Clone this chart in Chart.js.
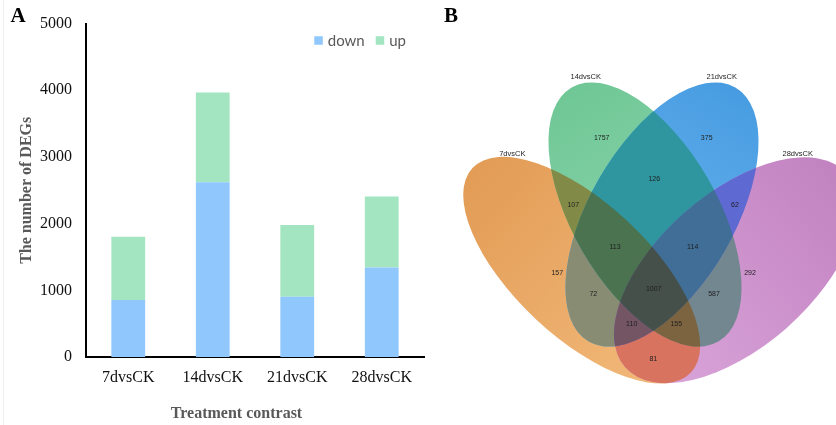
<!DOCTYPE html>
<html>
<head>
<meta charset="utf-8">
<script src="https://cdn.jsdelivr.net/npm/chart.js@4.4.1/dist/chart.umd.min.js"></script>
<style>
  html, body { margin: 0; padding: 0; background: #fff; }
  #wrap { position: relative; width: 836px; height: 425px; overflow: hidden; }
  #edge { position: absolute; left: 3px; top: 0; width: 1px; height: 425px; background: #efefef; }
  #barBox { position: absolute; left: 0; top: 0; width: 430px; height: 425px; }
  #vennBox { position: absolute; left: 430px; top: 0; width: 406px; height: 425px; }
</style>
</head>
<body>
<div id="wrap">
  <div id="edge"></div>
  <div id="barBox"><canvas id="bars"></canvas></div>
  <div id="vennBox"><canvas id="venn"></canvas></div>
</div>
<script>
// ---- Panel A data: DEG counts per contrast ----
const contrasts = ['7dvsCK', '14dvsCK', '21dvsCK', '28dvsCK'];
const downCounts = [855, 2619, 904, 1344];
const upCounts = [947, 1347, 1075, 1064];
const yTicks = [0, 1000, 2000, 3000, 4000, 5000];

// ---- Panel B data: Venn region counts ----
// A = 7dvsCK, B = 14dvsCK, C = 21dvsCK, D = 28dvsCK
const vennSets = ['7dvsCK', '14dvsCK', '21dvsCK', '28dvsCK'];
const vennRegions = ['A', 'B', 'C', 'D', 'AB', 'AC', 'AD', 'BC', 'BD', 'CD', 'ABC', 'ABD', 'ACD', 'BCD', 'ABCD'];
const vennCounts = [157, 1757, 375, 292, 107, 72, 81, 126, 587, 62, 113, 155, 110, 114, 1007];

const SERIF = '"Liberation Serif", "Times New Roman", serif';
const SANS = '"Liberation Sans", Arial, sans-serif';

// ---------------- Panel A ----------------
const barDecor = {
  id: 'barDecor',
  afterDraw(chart) {
    const { ctx, chartArea } = chart;
    ctx.save();
    ctx.textAlign = 'center';
    ctx.textBaseline = 'middle';
    ctx.fillStyle = '#000';
    ctx.font = 'bold 21px ' + SERIF;
    ctx.fillText('A', 18, 17);

    ctx.fillStyle = '#595959';
    ctx.font = 'bold 16px ' + SERIF;
    ctx.fillText('Treatment contrast', 236.5, 414);

    // legend in the upper right of the plot area
    ctx.font = '15px Lato, "Open Sans", sans-serif';
    const box = 8.5, gap = 5, itemGap = 11;
    const items = chart.data.datasets.map(d => ({ label: d.label, color: d.backgroundColor, w: ctx.measureText(d.label).width }));
    const total = items.reduce((s, it) => s + box + gap + it.w, 0) + itemGap * (items.length - 1);
    let x = chartArea.right - 18 - total;
    const cy = 40.5;
    ctx.textAlign = 'left';
    items.forEach(it => {
      ctx.fillStyle = it.color;
      ctx.fillRect(x, cy - box / 2, box, box);
      ctx.fillStyle = '#595959';
      ctx.fillText(it.label, x + box + gap, cy + 0.5);
      x += box + gap + it.w + itemGap;
    });
    ctx.restore();
  }
};

new Chart(document.getElementById('bars'), {
  type: 'bar',
  data: {
    labels: contrasts,
    datasets: [
      { label: 'down', data: downCounts, backgroundColor: '#90C7FD', borderWidth: 0, barPercentage: 0.4, categoryPercentage: 1 },
      { label: 'up', data: upCounts, backgroundColor: '#A3E5C1', borderWidth: 0, barPercentage: 0.4, categoryPercentage: 1 }
    ]
  },
  options: {
    responsive: true,
    maintainAspectRatio: false,
    animation: false,
    devicePixelRatio: 1,
    layout: { padding: { top: 16, right: 6, left: 0, bottom: 0 } },
    plugins: { legend: { display: false }, tooltip: { enabled: false } },
    scales: {
      x: {
        stacked: true,
        grid: { display: false, drawTicks: false },
        border: { display: true, color: '#000', width: 2 },
        ticks: { color: '#111', font: { family: SERIF, size: 16 }, padding: 11, maxRotation: 0 },
        afterFit(s) { s.height = 68; }
      },
      y: {
        stacked: true,
        min: 0,
        max: 5000,
        grid: { display: false, drawTicks: false },
        border: { display: true, color: '#000', width: 2 },
        afterBuildTicks(s) { s.ticks = yTicks.map(v => ({ value: v })); },
        ticks: { color: '#111', font: { family: SERIF, size: 16 }, padding: 14, callback: v => String(v) },
        title: {
          display: true,
          text: 'The number of DEGs',
          color: '#595959',
          font: { family: SERIF, size: 16, weight: 'bold' },
          padding: { top: 17, bottom: 0 }
        },
        afterFit(s) { s.width = 86; }
      }
    }
  },
  plugins: [barDecor]
});

// ---------------- Panel B ----------------
// Venn geometry in layout units (1 unit = 1 px of the panel)
const vennShapes = {
  A: { cx: 151.7, cy: 270.2, a: 149.6, b: 67.1, rot: 43.1 },
  B: { cx: 215.0, cy: 214.5, a: 146.7, b: 72.5, rot: 60.0 },
  C: { cx: 232.0, cy: 214.5, a: 146.7, b: 72.5, rot: 120.0 },
  D: { cx: 305.6, cy: 270.3, a: 147.0, b: 77.0, rot: 138.7 }
};
// single-set fills shade from the outer end (first) to the inner end (second)
const vennShade = {
  A: ['#E29C56', '#F3BA7B'],
  B: ['#70C796', '#93D9B2'],
  C: ['#479CE1', '#76BCF3'],
  D: ['#C282C1', '#DAA6DA']
};
const vennFill = {
  AB: '#828A48', AC: '#878C73', AD: '#D7735F', BC: '#2F96A0', BD: '#738791', CD: '#5F69D2',
  ABC: '#4B7350', ABD: '#7D6441', ACD: '#735564', BCD: '#416E96', ABCD: '#46504B'
};
const vennCountAnchor = {
  A: [127.3, 272.7], B: [171.7, 138.3], C: [276.7, 138.3], D: [320, 272.7],
  AB: [143.3, 205], AC: [163.3, 294], AD: [223.3, 359.3], BC: [224.3, 179], BD: [284, 294], CD: [305, 205],
  ABC: [185, 247.3], ABD: [246.3, 324.3], ACD: [201.7, 324.3], BCD: [262.7, 247.3], ABCD: [223.7, 289.3]
};
const vennNameAnchor = [[82.3, 154.3], [155.7, 76.7], [291.7, 76.7], [367.7, 154.3]];

function ellipseGeom(xs, ys, e) {
  const cx = xs.getPixelForValue(e.cx);
  const cy = ys.getPixelForValue(e.cy);
  const rx = Math.abs(xs.getPixelForValue(e.cx + e.a) - cx);
  const ry = Math.abs(ys.getPixelForValue(e.cy + e.b) - cy);
  return { cx, cy, rx, ry, ang: e.rot * Math.PI / 180 };
}

function ellipsePath(ctx, g) {
  ctx.beginPath();
  ctx.ellipse(g.cx, g.cy, g.rx, g.ry, g.ang, 0, Math.PI * 2);
}

const vennDraw = {
  id: 'vennDraw',
  beforeDatasetsDraw(chart) {
    const { ctx, chartArea, scales } = chart;
    const xs = scales.x, ys = scales.y;
    const geo = {};
    for (const s of Object.keys(vennShapes)) geo[s] = ellipseGeom(xs, ys, vennShapes[s]);

    // fill every exact-membership region: lower orders first, higher orders on top
    const order = vennRegions.map((r, i) => i).sort((p, q) => vennRegions[p].length - vennRegions[q].length);
    order.forEach(i => {
      const key = vennRegions[i];
      ctx.save();
      for (const s of key) {
        ellipsePath(ctx, geo[s]);
        ctx.clip();
      }
      if (key.length === 1) {
        const g = geo[key];
        const dx = Math.cos(g.ang) * g.rx, dy = Math.sin(g.ang) * g.rx;
        const grad = ctx.createLinearGradient(g.cx - dx, g.cy - dy, g.cx + dx, g.cy + dy);
        grad.addColorStop(0, vennShade[key][0]);
        grad.addColorStop(1, vennShade[key][1]);
        ctx.fillStyle = grad;
      } else {
        ctx.fillStyle = vennFill[key];
      }
      ctx.fillRect(chartArea.left, chartArea.top, chartArea.width, chartArea.height);
      ctx.restore();
    });

    ctx.save();
    ctx.textAlign = 'center';
    ctx.textBaseline = 'middle';
    ctx.fillStyle = '#1e1e1e';
    ctx.font = '7px ' + SANS;
    vennRegions.forEach((key, i) => {
      const [x, y] = vennCountAnchor[key];
      ctx.fillText(String(vennCounts[i]), xs.getPixelForValue(x), ys.getPixelForValue(y));
    });
    ctx.font = '7.5px ' + SANS;
    vennSets.forEach((name, i) => {
      const [x, y] = vennNameAnchor[i];
      ctx.fillText(name, xs.getPixelForValue(x), ys.getPixelForValue(y));
    });
    ctx.fillStyle = '#000';
    ctx.font = 'bold 21px ' + SERIF;
    ctx.fillText('B', xs.getPixelForValue(21), ys.getPixelForValue(17));
    ctx.restore();
  }
};

new Chart(document.getElementById('venn'), {
  type: 'scatter',
  data: { datasets: [{ data: [], pointRadius: 0 }] },
  options: {
    responsive: true,
    maintainAspectRatio: false,
    animation: false,
    devicePixelRatio: 1,
    layout: { padding: 0 },
    plugins: { legend: { display: false }, tooltip: { enabled: false } },
    scales: {
      x: { type: 'linear', min: 0, max: 406, display: false },
      y: { type: 'linear', min: 0, max: 425, reverse: true, display: false }
    }
  },
  plugins: [vennDraw]
});
</script>
</body>
</html>
